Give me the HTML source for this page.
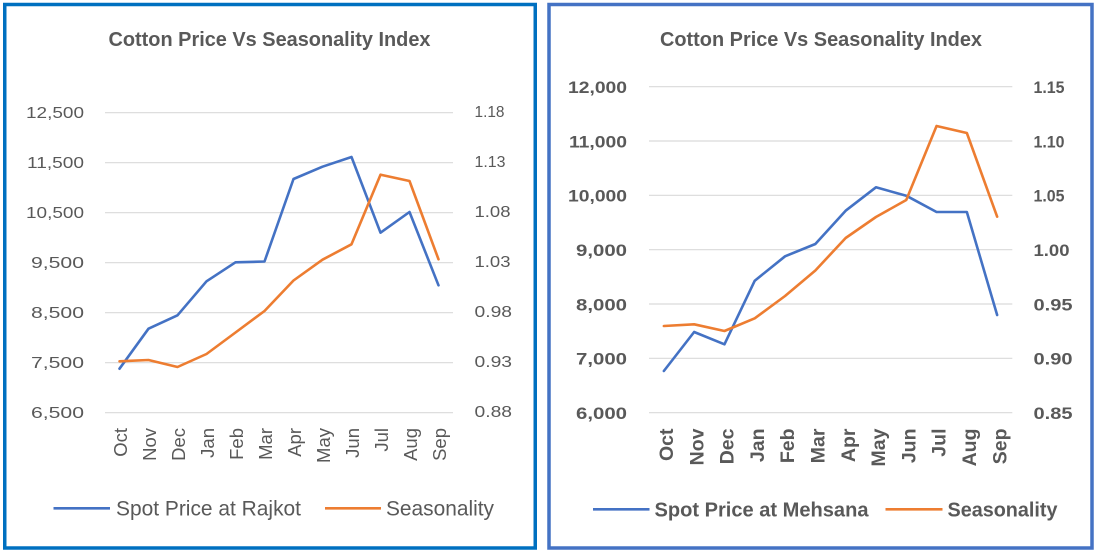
<!DOCTYPE html>
<html>
<head>
<meta charset="utf-8">
<style>
html,body{margin:0;padding:0;background:#fff;}
svg{display:block;}
text{font-family:"Liberation Sans",Arial,sans-serif;fill:#595959;}
</style>
</head>
<body>
<svg width="1096" height="552" viewBox="0 0 1096 552" xmlns="http://www.w3.org/2000/svg">
<rect x="0" y="0" width="1096" height="552" fill="#fff"/>
<!-- Panel borders -->
<rect x="4.75" y="4.5" width="530.5" height="543.5" fill="none" stroke="#0070C0" stroke-width="3.5"/>
<rect x="549" y="4.5" width="543" height="543.5" fill="none" stroke="#4472C4" stroke-width="3.5"/>

<!-- ===== LEFT CHART ===== -->
<text x="269.5" y="46" text-anchor="middle" font-size="20" font-weight="bold" textLength="322" lengthAdjust="spacingAndGlyphs">Cotton Price Vs Seasonality Index</text>
<g stroke="#D9D9D9" stroke-width="1.2">
<line x1="105" y1="112.7" x2="453" y2="112.7"/>
<line x1="105" y1="162.7" x2="453" y2="162.7"/>
<line x1="105" y1="212.7" x2="453" y2="212.7"/>
<line x1="105" y1="262.7" x2="453" y2="262.7"/>
<line x1="105" y1="312.7" x2="453" y2="312.7"/>
<line x1="105" y1="362.7" x2="453" y2="362.7"/>
<line x1="105" y1="412.7" x2="453" y2="412.7"/>
</g>
<g font-size="16" text-anchor="end">
<text x="84" y="118.2" textLength="58" lengthAdjust="spacingAndGlyphs">12,500</text>
<text x="84" y="168.2" textLength="57" lengthAdjust="spacingAndGlyphs">11,500</text>
<text x="84" y="218.2" textLength="58" lengthAdjust="spacingAndGlyphs">10,500</text>
<text x="84" y="268.2" textLength="53" lengthAdjust="spacingAndGlyphs">9,500</text>
<text x="84" y="318.2" textLength="53" lengthAdjust="spacingAndGlyphs">8,500</text>
<text x="84" y="368.2" textLength="53" lengthAdjust="spacingAndGlyphs">7,500</text>
<text x="84" y="418.2" textLength="53" lengthAdjust="spacingAndGlyphs">6,500</text>
</g>
<g font-size="16">
<text x="474.5" y="117" textLength="30" lengthAdjust="spacingAndGlyphs">1.18</text>
<text x="474.5" y="167" textLength="31" lengthAdjust="spacingAndGlyphs">1.13</text>
<text x="474.5" y="217" textLength="36" lengthAdjust="spacingAndGlyphs">1.08</text>
<text x="474.5" y="267" textLength="36" lengthAdjust="spacingAndGlyphs">1.03</text>
<text x="474.5" y="317" textLength="37.5" lengthAdjust="spacingAndGlyphs">0.98</text>
<text x="474.5" y="367" textLength="37.5" lengthAdjust="spacingAndGlyphs">0.93</text>
<text x="474.5" y="417" textLength="37.5" lengthAdjust="spacingAndGlyphs">0.88</text>
</g>
<g font-size="18.5" text-anchor="end">
<text transform="translate(127,428) rotate(-90)">Oct</text>
<text transform="translate(156,428) rotate(-90)">Nov</text>
<text transform="translate(185,428) rotate(-90)">Dec</text>
<text transform="translate(214,428) rotate(-90)">Jan</text>
<text transform="translate(243,428) rotate(-90)">Feb</text>
<text transform="translate(272,428) rotate(-90)">Mar</text>
<text transform="translate(301,428) rotate(-90)">Apr</text>
<text transform="translate(330,428) rotate(-90)">May</text>
<text transform="translate(359,428) rotate(-90)">Jun</text>
<text transform="translate(388,428) rotate(-90)">Jul</text>
<text transform="translate(417,428) rotate(-90)">Aug</text>
<text transform="translate(446,428) rotate(-90)">Sep</text>
</g>
<polyline fill="none" stroke="#4472C4" stroke-width="2.6" stroke-linejoin="round" stroke-linecap="round"
points="119.5,368.7 148.5,328.7 177.5,315.3 206.5,281.3 235.5,262.3 264.5,261.5 293.5,179 322.5,166.7 351.5,157 380.5,232.7 409.5,212 438.5,285.3"/>
<polyline fill="none" stroke="#ED7D31" stroke-width="2.6" stroke-linejoin="round" stroke-linecap="round"
points="119.5,361.3 148.5,360 177.5,367 206.5,354 235.5,332.5 264.5,311 293.5,280.5 322.5,259.7 351.5,244.3 380.5,174.7 409.5,181 438.5,259.3"/>
<line x1="53.5" y1="508.3" x2="110" y2="508.3" stroke="#4472C4" stroke-width="2.6"/>
<text x="116" y="515.5" font-size="21" textLength="185" lengthAdjust="spacingAndGlyphs">Spot Price at Rajkot</text>
<line x1="325" y1="508.3" x2="381" y2="508.3" stroke="#ED7D31" stroke-width="2.6"/>
<text x="386" y="515.5" font-size="21" textLength="108" lengthAdjust="spacingAndGlyphs">Seasonality</text>

<!-- ===== RIGHT CHART ===== -->
<text x="821" y="46" text-anchor="middle" font-size="20" font-weight="bold" textLength="322" lengthAdjust="spacingAndGlyphs">Cotton Price Vs Seasonality Index</text>
<g stroke="#D9D9D9" stroke-width="1.2">
<line x1="649" y1="86.7" x2="1012.3" y2="86.7"/>
<line x1="649" y1="141" x2="1012.3" y2="141"/>
<line x1="649" y1="195.3" x2="1012.3" y2="195.3"/>
<line x1="649" y1="249.7" x2="1012.3" y2="249.7"/>
<line x1="649" y1="304" x2="1012.3" y2="304"/>
<line x1="649" y1="358.3" x2="1012.3" y2="358.3"/>
<line x1="649" y1="412.7" x2="1012.3" y2="412.7"/>
</g>
<g font-size="17" font-weight="bold" text-anchor="end">
<text x="627" y="93" textLength="59" lengthAdjust="spacingAndGlyphs">12,000</text>
<text x="627" y="147.3" textLength="58" lengthAdjust="spacingAndGlyphs">11,000</text>
<text x="627" y="201.6" textLength="59" lengthAdjust="spacingAndGlyphs">10,000</text>
<text x="627" y="256" textLength="51" lengthAdjust="spacingAndGlyphs">9,000</text>
<text x="627" y="310.3" textLength="51" lengthAdjust="spacingAndGlyphs">8,000</text>
<text x="627" y="364.6" textLength="51" lengthAdjust="spacingAndGlyphs">7,000</text>
<text x="627" y="419" textLength="51" lengthAdjust="spacingAndGlyphs">6,000</text>
</g>
<g font-size="17" font-weight="bold">
<text x="1033.5" y="93" textLength="31" lengthAdjust="spacingAndGlyphs">1.15</text>
<text x="1033.5" y="147.3" textLength="31" lengthAdjust="spacingAndGlyphs">1.10</text>
<text x="1033.5" y="201.6" textLength="31" lengthAdjust="spacingAndGlyphs">1.05</text>
<text x="1033.5" y="256" textLength="36" lengthAdjust="spacingAndGlyphs">1.00</text>
<text x="1033.5" y="310.3" textLength="39" lengthAdjust="spacingAndGlyphs">0.95</text>
<text x="1033.5" y="364.6" textLength="39" lengthAdjust="spacingAndGlyphs">0.90</text>
<text x="1033.5" y="419" textLength="39" lengthAdjust="spacingAndGlyphs">0.85</text>
</g>
<g font-size="19.5" font-weight="bold" text-anchor="end">
<text transform="translate(673,428.5) rotate(-90)">Oct</text>
<text transform="translate(703.3,428.5) rotate(-90)">Nov</text>
<text transform="translate(733.6,428.5) rotate(-90)">Dec</text>
<text transform="translate(763.9,428.5) rotate(-90)">Jan</text>
<text transform="translate(794.2,428.5) rotate(-90)">Feb</text>
<text transform="translate(824.5,428.5) rotate(-90)">Mar</text>
<text transform="translate(854.8,428.5) rotate(-90)">Apr</text>
<text transform="translate(885.1,428.5) rotate(-90)">May</text>
<text transform="translate(915.4,428.5) rotate(-90)">Jun</text>
<text transform="translate(945.7,428.5) rotate(-90)">Jul</text>
<text transform="translate(976,428.5) rotate(-90)">Aug</text>
<text transform="translate(1006.3,428.5) rotate(-90)">Sep</text>
</g>
<polyline fill="none" stroke="#4472C4" stroke-width="2.6" stroke-linejoin="round" stroke-linecap="round"
points="663.85,371 694.15,332 724.45,344.3 754.75,280.7 785.05,256.3 815.35,244 845.65,210.7 875.95,187.3 906.25,195.7 936.55,212 966.85,212 997.15,315"/>
<polyline fill="none" stroke="#ED7D31" stroke-width="2.6" stroke-linejoin="round" stroke-linecap="round"
points="663.85,326 694.15,324.3 724.45,331 754.75,318.3 785.05,296 815.35,270.5 845.65,238 875.95,217 906.25,200 936.55,126 966.85,133 997.15,216.7"/>
<line x1="593" y1="509.3" x2="649.5" y2="509.3" stroke="#4472C4" stroke-width="2.6"/>
<text x="654.5" y="516.5" font-size="20" font-weight="bold" textLength="214" lengthAdjust="spacingAndGlyphs">Spot Price at Mehsana</text>
<line x1="885.5" y1="509.3" x2="942.5" y2="509.3" stroke="#ED7D31" stroke-width="2.6"/>
<text x="947.5" y="516.5" font-size="20" font-weight="bold" textLength="110" lengthAdjust="spacingAndGlyphs">Seasonality</text>
</svg>
</body>
</html>
